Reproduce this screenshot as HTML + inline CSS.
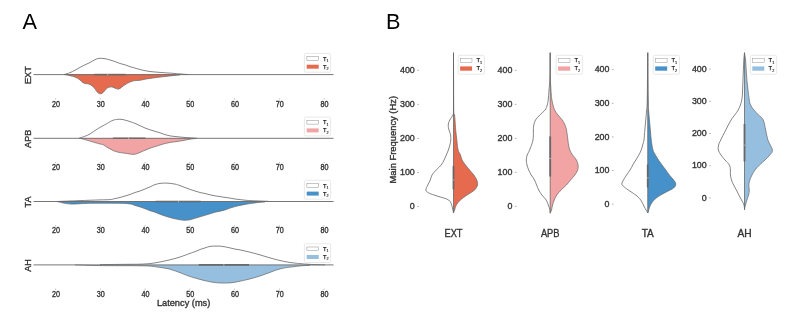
<!DOCTYPE html>
<html><head><meta charset="utf-8"><style>html,body{margin:0;padding:0;background:#fff;width:800px;height:329px;overflow:hidden;position:relative}</style></head>
<body>
<svg width="800" height="329" viewBox="0 0 800 329" style="position:absolute;left:0;top:0;will-change:transform" font-family='"Liberation Sans", sans-serif'>
<rect width="800" height="329" fill="#fff"/>
<text x="22.5" y="29.4" font-size="21.7" fill="#000">A</text>
<text x="386.1" y="29.4" font-size="21.7" fill="#000">B</text>
<path d="M64.20,74.50 C65.17,74.70 68.20,75.27 70.00,75.70 C71.80,76.13 73.33,76.40 75.00,77.10 C76.67,77.80 78.67,78.97 80.00,79.90 C81.33,80.83 82.00,82.08 83.00,82.70 C84.00,83.32 84.83,83.32 86.00,83.60 C87.17,83.88 88.67,83.73 90.00,84.40 C91.33,85.07 92.83,86.37 94.00,87.60 C95.17,88.83 96.08,90.80 97.00,91.80 C97.92,92.80 98.67,93.33 99.50,93.60 C100.33,93.87 101.08,93.93 102.00,93.40 C102.92,92.87 104.00,91.37 105.00,90.40 C106.00,89.43 106.83,88.18 108.00,87.60 C109.17,87.02 110.67,86.73 112.00,86.90 C113.33,87.07 114.83,88.25 116.00,88.60 C117.17,88.95 118.00,89.28 119.00,89.00 C120.00,88.72 121.00,87.60 122.00,86.90 C123.00,86.20 123.67,85.62 125.00,84.80 C126.33,83.98 128.33,82.70 130.00,82.00 C131.67,81.30 133.33,80.88 135.00,80.60 C136.67,80.32 138.33,80.53 140.00,80.30 C141.67,80.07 143.33,79.52 145.00,79.20 C146.67,78.88 148.33,78.65 150.00,78.40 C151.67,78.15 153.33,77.92 155.00,77.70 C156.67,77.48 158.33,77.30 160.00,77.10 C161.67,76.90 163.33,76.70 165.00,76.50 C166.67,76.30 168.33,76.08 170.00,75.90 C171.67,75.72 173.33,75.55 175.00,75.40 C176.67,75.25 177.83,75.13 180.00,75.00 C182.17,74.87 186.67,74.67 188.00,74.60 Z" fill="#e66a4d"/>
<path d="M64.20,74.50 C65.17,74.70 68.20,75.27 70.00,75.70 C71.80,76.13 73.33,76.40 75.00,77.10 C76.67,77.80 78.67,78.97 80.00,79.90 C81.33,80.83 82.00,82.08 83.00,82.70 C84.00,83.32 84.83,83.32 86.00,83.60 C87.17,83.88 88.67,83.73 90.00,84.40 C91.33,85.07 92.83,86.37 94.00,87.60 C95.17,88.83 96.08,90.80 97.00,91.80 C97.92,92.80 98.67,93.33 99.50,93.60 C100.33,93.87 101.08,93.93 102.00,93.40 C102.92,92.87 104.00,91.37 105.00,90.40 C106.00,89.43 106.83,88.18 108.00,87.60 C109.17,87.02 110.67,86.73 112.00,86.90 C113.33,87.07 114.83,88.25 116.00,88.60 C117.17,88.95 118.00,89.28 119.00,89.00 C120.00,88.72 121.00,87.60 122.00,86.90 C123.00,86.20 123.67,85.62 125.00,84.80 C126.33,83.98 128.33,82.70 130.00,82.00 C131.67,81.30 133.33,80.88 135.00,80.60 C136.67,80.32 138.33,80.53 140.00,80.30 C141.67,80.07 143.33,79.52 145.00,79.20 C146.67,78.88 148.33,78.65 150.00,78.40 C151.67,78.15 153.33,77.92 155.00,77.70 C156.67,77.48 158.33,77.30 160.00,77.10 C161.67,76.90 163.33,76.70 165.00,76.50 C166.67,76.30 168.33,76.08 170.00,75.90 C171.67,75.72 173.33,75.55 175.00,75.40 C176.67,75.25 179.17,75.07 180.00,75.00" fill="none" stroke="#666666" stroke-width="0.7"/>
<path d="M64.20,74.50 C65.17,74.20 68.20,73.42 70.00,72.70 C71.80,71.98 73.33,71.08 75.00,70.20 C76.67,69.32 78.33,68.30 80.00,67.40 C81.67,66.50 83.33,65.62 85.00,64.80 C86.67,63.98 88.33,63.35 90.00,62.50 C91.67,61.65 93.50,60.40 95.00,59.70 C96.50,59.00 97.33,58.47 99.00,58.30 C100.67,58.13 103.17,58.42 105.00,58.70 C106.83,58.98 108.33,59.53 110.00,60.00 C111.67,60.47 113.33,60.92 115.00,61.50 C116.67,62.08 118.33,62.95 120.00,63.50 C121.67,64.05 123.33,64.27 125.00,64.80 C126.67,65.33 128.33,66.15 130.00,66.70 C131.67,67.25 133.33,67.63 135.00,68.10 C136.67,68.57 138.33,69.07 140.00,69.50 C141.67,69.93 143.33,70.37 145.00,70.70 C146.67,71.03 148.33,71.28 150.00,71.50 C151.67,71.72 153.33,71.85 155.00,72.00 C156.67,72.15 158.33,72.27 160.00,72.40 C161.67,72.53 163.33,72.68 165.00,72.80 C166.67,72.92 168.33,72.98 170.00,73.10 C171.67,73.22 173.33,73.37 175.00,73.50 C176.67,73.63 177.83,73.72 180.00,73.90 C182.17,74.08 186.67,74.48 188.00,74.60" fill="none" stroke="#666666" stroke-width="0.8"/>
<line x1="33.5" y1="74.6" x2="333.5" y2="74.6" stroke="#666666" stroke-width="0.9"/>
<line x1="94.2" y1="74.6" x2="125.7" y2="74.6" stroke="#6a6a6a" stroke-width="1.6"/>
<line x1="107.45" y1="74.6" x2="108.14999999999999" y2="74.6" stroke="#ccc" stroke-width="1.6"/>
<text transform="translate(30.5,75.1) rotate(-90)" text-anchor="middle" font-size="9.1" fill="#333333" stroke="#333333" stroke-width="0.35">EXT</text>
<line x1="55.6" y1="98.39999999999999" x2="55.6" y2="99.39999999999999" stroke="#999" stroke-width="0.8"/>
<text x="56.0" y="106.8" text-anchor="middle" font-size="8.2" textLength="8.0" lengthAdjust="spacingAndGlyphs" fill="#333333" stroke="#333333" stroke-width="0.35">20</text>
<line x1="100.35" y1="98.39999999999999" x2="100.35" y2="99.39999999999999" stroke="#999" stroke-width="0.8"/>
<text x="100.75" y="106.8" text-anchor="middle" font-size="8.2" textLength="8.0" lengthAdjust="spacingAndGlyphs" fill="#333333" stroke="#333333" stroke-width="0.35">30</text>
<line x1="145.1" y1="98.39999999999999" x2="145.1" y2="99.39999999999999" stroke="#999" stroke-width="0.8"/>
<text x="145.5" y="106.8" text-anchor="middle" font-size="8.2" textLength="8.0" lengthAdjust="spacingAndGlyphs" fill="#333333" stroke="#333333" stroke-width="0.35">40</text>
<line x1="189.85" y1="98.39999999999999" x2="189.85" y2="99.39999999999999" stroke="#999" stroke-width="0.8"/>
<text x="190.25" y="106.8" text-anchor="middle" font-size="8.2" textLength="8.0" lengthAdjust="spacingAndGlyphs" fill="#333333" stroke="#333333" stroke-width="0.35">50</text>
<line x1="234.6" y1="98.39999999999999" x2="234.6" y2="99.39999999999999" stroke="#999" stroke-width="0.8"/>
<text x="235.0" y="106.8" text-anchor="middle" font-size="8.2" textLength="8.0" lengthAdjust="spacingAndGlyphs" fill="#333333" stroke="#333333" stroke-width="0.35">60</text>
<line x1="279.35" y1="98.39999999999999" x2="279.35" y2="99.39999999999999" stroke="#999" stroke-width="0.8"/>
<text x="279.75" y="106.8" text-anchor="middle" font-size="8.2" textLength="8.0" lengthAdjust="spacingAndGlyphs" fill="#333333" stroke="#333333" stroke-width="0.35">70</text>
<line x1="324.1" y1="98.39999999999999" x2="324.1" y2="99.39999999999999" stroke="#999" stroke-width="0.8"/>
<text x="324.5" y="106.8" text-anchor="middle" font-size="8.2" textLength="8.0" lengthAdjust="spacingAndGlyphs" fill="#333333" stroke="#333333" stroke-width="0.35">80</text>
<rect x="304.4" y="53.39999999999999" width="26.2" height="18.8" rx="1.2" fill="#fff" stroke="#e3e3e3" stroke-width="0.8"/>
<rect x="306.9" y="56.69999999999999" width="11.7" height="3.7" fill="#fff" stroke="#808080" stroke-width="0.45"/>
<rect x="306.7" y="64.69999999999999" width="12" height="4" fill="#e66a4d"/>
<text x="323.0" y="60.69999999999999" font-size="5.8" fill="#222" stroke="#222" stroke-width="0.25">T<tspan font-size="3.8" dy="1.2" stroke-width="0.15">1</tspan></text>
<text x="323.0" y="68.69999999999999" font-size="5.8" fill="#222" stroke="#222" stroke-width="0.25">T<tspan font-size="3.8" dy="1.2" stroke-width="0.15">2</tspan></text>
<path d="M79.90,138.30 C80.75,138.52 83.32,139.13 85.00,139.60 C86.68,140.07 88.33,140.60 90.00,141.10 C91.67,141.60 93.33,142.12 95.00,142.60 C96.67,143.08 98.67,143.67 100.00,144.00 C101.33,144.33 101.83,144.07 103.00,144.60 C104.17,145.13 105.67,146.40 107.00,147.20 C108.33,148.00 109.67,148.72 111.00,149.40 C112.33,150.08 113.50,150.77 115.00,151.30 C116.50,151.83 118.33,152.28 120.00,152.60 C121.67,152.92 123.33,152.97 125.00,153.20 C126.67,153.43 128.50,153.80 130.00,154.00 C131.50,154.20 132.83,154.47 134.00,154.40 C135.17,154.33 136.00,153.93 137.00,153.60 C138.00,153.27 138.67,152.95 140.00,152.40 C141.33,151.85 143.33,151.00 145.00,150.30 C146.67,149.60 148.33,148.82 150.00,148.20 C151.67,147.58 153.33,147.13 155.00,146.60 C156.67,146.07 158.33,145.52 160.00,145.00 C161.67,144.48 163.33,143.92 165.00,143.50 C166.67,143.08 168.33,142.78 170.00,142.50 C171.67,142.22 173.33,142.05 175.00,141.80 C176.67,141.55 178.33,141.27 180.00,141.00 C181.67,140.73 183.33,140.50 185.00,140.20 C186.67,139.90 188.33,139.48 190.00,139.20 C191.67,138.92 193.17,138.65 195.00,138.50 C196.83,138.35 200.00,138.33 201.00,138.30 Z" fill="#f2a4a4"/>
<path d="M79.90,138.30 C80.75,138.52 83.32,139.13 85.00,139.60 C86.68,140.07 88.33,140.60 90.00,141.10 C91.67,141.60 93.33,142.12 95.00,142.60 C96.67,143.08 98.67,143.67 100.00,144.00 C101.33,144.33 101.83,144.07 103.00,144.60 C104.17,145.13 105.67,146.40 107.00,147.20 C108.33,148.00 109.67,148.72 111.00,149.40 C112.33,150.08 113.50,150.77 115.00,151.30 C116.50,151.83 118.33,152.28 120.00,152.60 C121.67,152.92 123.33,152.97 125.00,153.20 C126.67,153.43 128.50,153.80 130.00,154.00 C131.50,154.20 132.83,154.47 134.00,154.40 C135.17,154.33 136.00,153.93 137.00,153.60 C138.00,153.27 138.67,152.95 140.00,152.40 C141.33,151.85 143.33,151.00 145.00,150.30 C146.67,149.60 148.33,148.82 150.00,148.20 C151.67,147.58 153.33,147.13 155.00,146.60 C156.67,146.07 158.33,145.52 160.00,145.00 C161.67,144.48 163.33,143.92 165.00,143.50 C166.67,143.08 168.33,142.78 170.00,142.50 C171.67,142.22 173.33,142.05 175.00,141.80 C176.67,141.55 178.33,141.27 180.00,141.00 C181.67,140.73 183.33,140.50 185.00,140.20 C186.67,139.90 188.33,139.48 190.00,139.20 C191.67,138.92 194.17,138.62 195.00,138.50" fill="none" stroke="#666666" stroke-width="0.7"/>
<path d="M79.00,138.30 C79.93,137.98 82.75,137.13 84.60,136.40 C86.45,135.67 87.97,135.15 90.10,133.90 C92.23,132.65 94.97,130.42 97.40,128.90 C99.83,127.38 102.27,126.17 104.70,124.80 C107.13,123.43 110.18,121.57 112.00,120.70 C113.82,119.83 114.60,119.83 115.60,119.60 C116.60,119.37 116.93,119.33 118.00,119.30 C119.07,119.27 120.67,119.22 122.00,119.40 C123.33,119.58 124.67,120.03 126.00,120.40 C127.33,120.77 128.50,121.10 130.00,121.60 C131.50,122.10 133.33,122.72 135.00,123.40 C136.67,124.08 138.33,124.93 140.00,125.70 C141.67,126.47 143.33,127.32 145.00,128.00 C146.67,128.68 148.33,129.25 150.00,129.80 C151.67,130.35 153.33,130.80 155.00,131.30 C156.67,131.80 158.33,132.25 160.00,132.80 C161.67,133.35 163.33,134.08 165.00,134.60 C166.67,135.12 168.33,135.58 170.00,135.90 C171.67,136.22 173.33,136.32 175.00,136.50 C176.67,136.68 178.33,136.83 180.00,137.00 C181.67,137.17 183.33,137.37 185.00,137.50 C186.67,137.63 188.00,137.67 190.00,137.80 C192.00,137.93 195.83,138.22 197.00,138.30" fill="none" stroke="#666666" stroke-width="0.8"/>
<line x1="33.5" y1="138.3" x2="333.5" y2="138.3" stroke="#666666" stroke-width="0.9"/>
<line x1="112.9" y1="138.3" x2="145.4" y2="138.3" stroke="#6a6a6a" stroke-width="1.6"/>
<line x1="128.35" y1="138.3" x2="129.04999999999998" y2="138.3" stroke="#ccc" stroke-width="1.6"/>
<text transform="translate(30.5,138.8) rotate(-90)" text-anchor="middle" font-size="9.1" fill="#333333" stroke="#333333" stroke-width="0.35">APB</text>
<line x1="55.6" y1="162.10000000000002" x2="55.6" y2="163.10000000000002" stroke="#999" stroke-width="0.8"/>
<text x="56.0" y="170.0" text-anchor="middle" font-size="8.2" textLength="8.0" lengthAdjust="spacingAndGlyphs" fill="#333333" stroke="#333333" stroke-width="0.35">20</text>
<line x1="100.35" y1="162.10000000000002" x2="100.35" y2="163.10000000000002" stroke="#999" stroke-width="0.8"/>
<text x="100.75" y="170.0" text-anchor="middle" font-size="8.2" textLength="8.0" lengthAdjust="spacingAndGlyphs" fill="#333333" stroke="#333333" stroke-width="0.35">30</text>
<line x1="145.1" y1="162.10000000000002" x2="145.1" y2="163.10000000000002" stroke="#999" stroke-width="0.8"/>
<text x="145.5" y="170.0" text-anchor="middle" font-size="8.2" textLength="8.0" lengthAdjust="spacingAndGlyphs" fill="#333333" stroke="#333333" stroke-width="0.35">40</text>
<line x1="189.85" y1="162.10000000000002" x2="189.85" y2="163.10000000000002" stroke="#999" stroke-width="0.8"/>
<text x="190.25" y="170.0" text-anchor="middle" font-size="8.2" textLength="8.0" lengthAdjust="spacingAndGlyphs" fill="#333333" stroke="#333333" stroke-width="0.35">50</text>
<line x1="234.6" y1="162.10000000000002" x2="234.6" y2="163.10000000000002" stroke="#999" stroke-width="0.8"/>
<text x="235.0" y="170.0" text-anchor="middle" font-size="8.2" textLength="8.0" lengthAdjust="spacingAndGlyphs" fill="#333333" stroke="#333333" stroke-width="0.35">60</text>
<line x1="279.35" y1="162.10000000000002" x2="279.35" y2="163.10000000000002" stroke="#999" stroke-width="0.8"/>
<text x="279.75" y="170.0" text-anchor="middle" font-size="8.2" textLength="8.0" lengthAdjust="spacingAndGlyphs" fill="#333333" stroke="#333333" stroke-width="0.35">70</text>
<line x1="324.1" y1="162.10000000000002" x2="324.1" y2="163.10000000000002" stroke="#999" stroke-width="0.8"/>
<text x="324.5" y="170.0" text-anchor="middle" font-size="8.2" textLength="8.0" lengthAdjust="spacingAndGlyphs" fill="#333333" stroke="#333333" stroke-width="0.35">80</text>
<rect x="304.4" y="117.10000000000001" width="26.2" height="18.8" rx="1.2" fill="#fff" stroke="#e3e3e3" stroke-width="0.8"/>
<rect x="306.9" y="120.4" width="11.7" height="3.7" fill="#fff" stroke="#808080" stroke-width="0.45"/>
<rect x="306.7" y="128.4" width="12" height="4" fill="#f2a4a4"/>
<text x="323.0" y="124.4" font-size="5.8" fill="#222" stroke="#222" stroke-width="0.25">T<tspan font-size="3.8" dy="1.2" stroke-width="0.15">1</tspan></text>
<text x="323.0" y="132.4" font-size="5.8" fill="#222" stroke="#222" stroke-width="0.25">T<tspan font-size="3.8" dy="1.2" stroke-width="0.15">2</tspan></text>
<path d="M57.00,201.50 C58.33,201.80 62.50,202.87 65.00,203.30 C67.50,203.73 69.50,204.03 72.00,204.10 C74.50,204.17 77.00,203.83 80.00,203.70 C83.00,203.57 86.67,203.38 90.00,203.30 C93.33,203.22 96.67,203.22 100.00,203.20 C103.33,203.18 106.67,203.18 110.00,203.20 C113.33,203.22 116.67,203.18 120.00,203.30 C123.33,203.42 127.50,203.55 130.00,203.90 C132.50,204.25 133.33,204.90 135.00,205.40 C136.67,205.90 138.33,206.35 140.00,206.90 C141.67,207.45 143.33,208.07 145.00,208.70 C146.67,209.33 148.33,210.12 150.00,210.70 C151.67,211.28 153.33,211.62 155.00,212.20 C156.67,212.78 158.33,213.57 160.00,214.20 C161.67,214.83 163.33,215.43 165.00,216.00 C166.67,216.57 168.33,217.13 170.00,217.60 C171.67,218.07 173.33,218.43 175.00,218.80 C176.67,219.17 178.33,219.55 180.00,219.80 C181.67,220.05 183.33,220.30 185.00,220.30 C186.67,220.30 188.33,220.13 190.00,219.80 C191.67,219.47 193.33,218.80 195.00,218.30 C196.67,217.80 198.33,217.30 200.00,216.80 C201.67,216.30 203.33,215.80 205.00,215.30 C206.67,214.80 208.33,214.32 210.00,213.80 C211.67,213.28 213.33,212.63 215.00,212.20 C216.67,211.77 218.33,211.58 220.00,211.20 C221.67,210.82 223.33,210.42 225.00,209.90 C226.67,209.38 228.33,208.65 230.00,208.10 C231.67,207.55 233.33,207.05 235.00,206.60 C236.67,206.15 238.33,205.77 240.00,205.40 C241.67,205.03 243.33,204.70 245.00,204.40 C246.67,204.10 248.33,203.85 250.00,203.60 C251.67,203.35 253.33,203.12 255.00,202.90 C256.67,202.68 258.33,202.47 260.00,202.30 C261.67,202.13 263.33,202.00 265.00,201.90 C266.67,201.80 268.17,201.77 270.00,201.70 C271.83,201.63 275.00,201.53 276.00,201.50 Z" fill="#4691ca"/>
<path d="M57.00,201.50 C58.33,201.80 62.50,202.87 65.00,203.30 C67.50,203.73 69.50,204.03 72.00,204.10 C74.50,204.17 77.00,203.83 80.00,203.70 C83.00,203.57 86.67,203.38 90.00,203.30 C93.33,203.22 96.67,203.22 100.00,203.20 C103.33,203.18 106.67,203.18 110.00,203.20 C113.33,203.22 116.67,203.18 120.00,203.30 C123.33,203.42 127.50,203.55 130.00,203.90 C132.50,204.25 133.33,204.90 135.00,205.40 C136.67,205.90 138.33,206.35 140.00,206.90 C141.67,207.45 143.33,208.07 145.00,208.70 C146.67,209.33 148.33,210.12 150.00,210.70 C151.67,211.28 153.33,211.62 155.00,212.20 C156.67,212.78 158.33,213.57 160.00,214.20 C161.67,214.83 163.33,215.43 165.00,216.00 C166.67,216.57 168.33,217.13 170.00,217.60 C171.67,218.07 173.33,218.43 175.00,218.80 C176.67,219.17 178.33,219.55 180.00,219.80 C181.67,220.05 183.33,220.30 185.00,220.30 C186.67,220.30 188.33,220.13 190.00,219.80 C191.67,219.47 193.33,218.80 195.00,218.30 C196.67,217.80 198.33,217.30 200.00,216.80 C201.67,216.30 203.33,215.80 205.00,215.30 C206.67,214.80 208.33,214.32 210.00,213.80 C211.67,213.28 213.33,212.63 215.00,212.20 C216.67,211.77 218.33,211.58 220.00,211.20 C221.67,210.82 223.33,210.42 225.00,209.90 C226.67,209.38 228.33,208.65 230.00,208.10 C231.67,207.55 233.33,207.05 235.00,206.60 C236.67,206.15 238.33,205.77 240.00,205.40 C241.67,205.03 243.33,204.70 245.00,204.40 C246.67,204.10 248.33,203.85 250.00,203.60 C251.67,203.35 253.33,203.12 255.00,202.90 C256.67,202.68 258.33,202.47 260.00,202.30 C261.67,202.13 264.17,201.97 265.00,201.90" fill="none" stroke="#666666" stroke-width="0.7"/>
<path d="M57.00,201.50 C59.17,201.42 66.17,201.15 70.00,201.00 C73.83,200.85 75.00,200.78 80.00,200.60 C85.00,200.42 95.00,200.07 100.00,199.90 C105.00,199.73 107.50,199.82 110.00,199.60 C112.50,199.38 113.33,198.95 115.00,198.60 C116.67,198.25 118.33,197.93 120.00,197.50 C121.67,197.07 123.33,196.50 125.00,196.00 C126.67,195.50 128.33,195.08 130.00,194.50 C131.67,193.92 133.33,193.08 135.00,192.50 C136.67,191.92 138.33,191.58 140.00,191.00 C141.67,190.42 143.33,189.68 145.00,189.00 C146.67,188.32 148.33,187.63 150.00,186.90 C151.67,186.17 153.33,185.18 155.00,184.60 C156.67,184.02 158.00,183.65 160.00,183.40 C162.00,183.15 164.50,182.98 167.00,183.10 C169.50,183.22 172.83,183.68 175.00,184.10 C177.17,184.52 178.33,185.03 180.00,185.60 C181.67,186.17 183.33,186.87 185.00,187.50 C186.67,188.13 188.33,188.82 190.00,189.40 C191.67,189.98 193.33,190.48 195.00,191.00 C196.67,191.52 198.33,192.08 200.00,192.50 C201.67,192.92 203.33,193.12 205.00,193.50 C206.67,193.88 208.33,194.42 210.00,194.80 C211.67,195.18 213.33,195.50 215.00,195.80 C216.67,196.10 218.33,196.33 220.00,196.60 C221.67,196.87 223.33,197.15 225.00,197.40 C226.67,197.65 228.33,197.83 230.00,198.10 C231.67,198.37 233.33,198.75 235.00,199.00 C236.67,199.25 238.33,199.40 240.00,199.60 C241.67,199.80 243.33,200.03 245.00,200.20 C246.67,200.37 247.50,200.47 250.00,200.60 C252.50,200.73 257.00,200.88 260.00,201.00 C263.00,201.12 266.67,201.25 268.00,201.30" fill="none" stroke="#666666" stroke-width="0.8"/>
<line x1="33.5" y1="201.5" x2="333.5" y2="201.5" stroke="#666666" stroke-width="0.9"/>
<line x1="155.6" y1="201.5" x2="200.7" y2="201.5" stroke="#6a6a6a" stroke-width="1.6"/>
<line x1="178.05" y1="201.5" x2="178.75" y2="201.5" stroke="#ccc" stroke-width="1.6"/>
<text transform="translate(30.5,202.0) rotate(-90)" text-anchor="middle" font-size="9.1" fill="#333333" stroke="#333333" stroke-width="0.35">TA</text>
<line x1="55.6" y1="225.3" x2="55.6" y2="226.3" stroke="#999" stroke-width="0.8"/>
<text x="56.0" y="233.4" text-anchor="middle" font-size="8.2" textLength="8.0" lengthAdjust="spacingAndGlyphs" fill="#333333" stroke="#333333" stroke-width="0.35">20</text>
<line x1="100.35" y1="225.3" x2="100.35" y2="226.3" stroke="#999" stroke-width="0.8"/>
<text x="100.75" y="233.4" text-anchor="middle" font-size="8.2" textLength="8.0" lengthAdjust="spacingAndGlyphs" fill="#333333" stroke="#333333" stroke-width="0.35">30</text>
<line x1="145.1" y1="225.3" x2="145.1" y2="226.3" stroke="#999" stroke-width="0.8"/>
<text x="145.5" y="233.4" text-anchor="middle" font-size="8.2" textLength="8.0" lengthAdjust="spacingAndGlyphs" fill="#333333" stroke="#333333" stroke-width="0.35">40</text>
<line x1="189.85" y1="225.3" x2="189.85" y2="226.3" stroke="#999" stroke-width="0.8"/>
<text x="190.25" y="233.4" text-anchor="middle" font-size="8.2" textLength="8.0" lengthAdjust="spacingAndGlyphs" fill="#333333" stroke="#333333" stroke-width="0.35">50</text>
<line x1="234.6" y1="225.3" x2="234.6" y2="226.3" stroke="#999" stroke-width="0.8"/>
<text x="235.0" y="233.4" text-anchor="middle" font-size="8.2" textLength="8.0" lengthAdjust="spacingAndGlyphs" fill="#333333" stroke="#333333" stroke-width="0.35">60</text>
<line x1="279.35" y1="225.3" x2="279.35" y2="226.3" stroke="#999" stroke-width="0.8"/>
<text x="279.75" y="233.4" text-anchor="middle" font-size="8.2" textLength="8.0" lengthAdjust="spacingAndGlyphs" fill="#333333" stroke="#333333" stroke-width="0.35">70</text>
<line x1="324.1" y1="225.3" x2="324.1" y2="226.3" stroke="#999" stroke-width="0.8"/>
<text x="324.5" y="233.4" text-anchor="middle" font-size="8.2" textLength="8.0" lengthAdjust="spacingAndGlyphs" fill="#333333" stroke="#333333" stroke-width="0.35">80</text>
<rect x="304.4" y="180.3" width="26.2" height="18.8" rx="1.2" fill="#fff" stroke="#e3e3e3" stroke-width="0.8"/>
<rect x="306.9" y="183.60000000000002" width="11.7" height="3.7" fill="#fff" stroke="#808080" stroke-width="0.45"/>
<rect x="306.7" y="191.60000000000002" width="12" height="4" fill="#4691ca"/>
<text x="323.0" y="187.60000000000002" font-size="5.8" fill="#222" stroke="#222" stroke-width="0.25">T<tspan font-size="3.8" dy="1.2" stroke-width="0.15">1</tspan></text>
<text x="323.0" y="195.60000000000002" font-size="5.8" fill="#222" stroke="#222" stroke-width="0.25">T<tspan font-size="3.8" dy="1.2" stroke-width="0.15">2</tspan></text>
<path d="M75.00,264.90 C79.17,265.02 90.83,265.47 100.00,265.60 C109.17,265.73 123.33,265.67 130.00,265.70 C136.67,265.73 136.67,265.73 140.00,265.80 C143.33,265.87 146.67,265.83 150.00,266.10 C153.33,266.37 156.67,266.88 160.00,267.40 C163.33,267.92 166.67,268.32 170.00,269.20 C173.33,270.08 176.67,271.48 180.00,272.70 C183.33,273.92 187.50,275.62 190.00,276.50 C192.50,277.38 193.33,277.52 195.00,278.00 C196.67,278.48 198.33,278.95 200.00,279.40 C201.67,279.85 203.33,280.30 205.00,280.70 C206.67,281.10 208.33,281.48 210.00,281.80 C211.67,282.12 213.33,282.40 215.00,282.60 C216.67,282.80 218.33,282.93 220.00,283.00 C221.67,283.07 223.33,283.02 225.00,283.00 C226.67,282.98 228.33,283.03 230.00,282.90 C231.67,282.77 233.33,282.48 235.00,282.20 C236.67,281.92 238.33,281.55 240.00,281.20 C241.67,280.85 243.33,280.48 245.00,280.10 C246.67,279.72 248.33,279.33 250.00,278.90 C251.67,278.47 253.33,277.98 255.00,277.50 C256.67,277.02 258.33,276.55 260.00,276.00 C261.67,275.45 263.33,274.80 265.00,274.20 C266.67,273.60 268.33,273.03 270.00,272.40 C271.67,271.77 273.33,270.98 275.00,270.40 C276.67,269.82 278.33,269.33 280.00,268.90 C281.67,268.47 283.33,268.10 285.00,267.80 C286.67,267.50 288.33,267.30 290.00,267.10 C291.67,266.90 293.33,266.80 295.00,266.60 C296.67,266.40 297.50,266.12 300.00,265.90 C302.50,265.68 305.83,265.47 310.00,265.30 C314.17,265.13 322.50,264.97 325.00,264.90 Z" fill="#96bfdf"/>
<path d="M75.00,264.90 C79.17,265.02 90.83,265.47 100.00,265.60 C109.17,265.73 123.33,265.67 130.00,265.70 C136.67,265.73 136.67,265.73 140.00,265.80 C143.33,265.87 146.67,265.83 150.00,266.10 C153.33,266.37 156.67,266.88 160.00,267.40 C163.33,267.92 166.67,268.32 170.00,269.20 C173.33,270.08 176.67,271.48 180.00,272.70 C183.33,273.92 187.50,275.62 190.00,276.50 C192.50,277.38 193.33,277.52 195.00,278.00 C196.67,278.48 198.33,278.95 200.00,279.40 C201.67,279.85 203.33,280.30 205.00,280.70 C206.67,281.10 208.33,281.48 210.00,281.80 C211.67,282.12 213.33,282.40 215.00,282.60 C216.67,282.80 218.33,282.93 220.00,283.00 C221.67,283.07 223.33,283.02 225.00,283.00 C226.67,282.98 228.33,283.03 230.00,282.90 C231.67,282.77 233.33,282.48 235.00,282.20 C236.67,281.92 238.33,281.55 240.00,281.20 C241.67,280.85 243.33,280.48 245.00,280.10 C246.67,279.72 248.33,279.33 250.00,278.90 C251.67,278.47 253.33,277.98 255.00,277.50 C256.67,277.02 258.33,276.55 260.00,276.00 C261.67,275.45 263.33,274.80 265.00,274.20 C266.67,273.60 268.33,273.03 270.00,272.40 C271.67,271.77 273.33,270.98 275.00,270.40 C276.67,269.82 278.33,269.33 280.00,268.90 C281.67,268.47 283.33,268.10 285.00,267.80 C286.67,267.50 288.33,267.30 290.00,267.10 C291.67,266.90 293.33,266.80 295.00,266.60 C296.67,266.40 297.50,266.12 300.00,265.90 C302.50,265.68 308.33,265.40 310.00,265.30" fill="none" stroke="#666666" stroke-width="0.7"/>
<path d="M100.00,264.60 C105.00,264.55 123.33,264.37 130.00,264.30 C136.67,264.23 136.67,264.32 140.00,264.20 C143.33,264.08 146.67,263.97 150.00,263.60 C153.33,263.23 156.67,262.63 160.00,262.00 C163.33,261.37 166.67,260.63 170.00,259.80 C173.33,258.97 176.67,258.07 180.00,257.00 C183.33,255.93 187.50,254.30 190.00,253.40 C192.50,252.50 193.33,252.25 195.00,251.60 C196.67,250.95 198.33,250.12 200.00,249.50 C201.67,248.88 203.33,248.42 205.00,247.90 C206.67,247.38 208.33,246.70 210.00,246.40 C211.67,246.10 213.33,246.15 215.00,246.10 C216.67,246.05 218.33,245.98 220.00,246.10 C221.67,246.22 223.33,246.50 225.00,246.80 C226.67,247.10 228.33,247.52 230.00,247.90 C231.67,248.28 233.33,248.77 235.00,249.10 C236.67,249.43 238.33,249.58 240.00,249.90 C241.67,250.22 243.33,250.62 245.00,251.00 C246.67,251.38 248.33,251.78 250.00,252.20 C251.67,252.62 253.33,253.05 255.00,253.50 C256.67,253.95 258.33,254.42 260.00,254.90 C261.67,255.38 263.33,255.90 265.00,256.40 C266.67,256.90 268.33,257.42 270.00,257.90 C271.67,258.38 273.33,258.87 275.00,259.30 C276.67,259.73 278.33,260.12 280.00,260.50 C281.67,260.88 283.33,261.27 285.00,261.60 C286.67,261.93 288.33,262.25 290.00,262.50 C291.67,262.75 293.33,262.92 295.00,263.10 C296.67,263.28 297.50,263.38 300.00,263.60 C302.50,263.82 305.83,264.18 310.00,264.40 C314.17,264.62 322.50,264.82 325.00,264.90" fill="none" stroke="#666666" stroke-width="0.8"/>
<line x1="33.5" y1="264.9" x2="333.5" y2="264.9" stroke="#666666" stroke-width="0.9"/>
<line x1="198.8" y1="264.9" x2="249" y2="264.9" stroke="#6a6a6a" stroke-width="1.6"/>
<line x1="223.55" y1="264.9" x2="224.25" y2="264.9" stroke="#ccc" stroke-width="1.6"/>
<text transform="translate(30.5,265.4) rotate(-90)" text-anchor="middle" font-size="9.1" fill="#333333" stroke="#333333" stroke-width="0.35">AH</text>
<line x1="55.6" y1="288.7" x2="55.6" y2="289.7" stroke="#999" stroke-width="0.8"/>
<text x="56.0" y="296.9" text-anchor="middle" font-size="8.2" textLength="8.0" lengthAdjust="spacingAndGlyphs" fill="#333333" stroke="#333333" stroke-width="0.35">20</text>
<line x1="100.35" y1="288.7" x2="100.35" y2="289.7" stroke="#999" stroke-width="0.8"/>
<text x="100.75" y="296.9" text-anchor="middle" font-size="8.2" textLength="8.0" lengthAdjust="spacingAndGlyphs" fill="#333333" stroke="#333333" stroke-width="0.35">30</text>
<line x1="145.1" y1="288.7" x2="145.1" y2="289.7" stroke="#999" stroke-width="0.8"/>
<text x="145.5" y="296.9" text-anchor="middle" font-size="8.2" textLength="8.0" lengthAdjust="spacingAndGlyphs" fill="#333333" stroke="#333333" stroke-width="0.35">40</text>
<line x1="189.85" y1="288.7" x2="189.85" y2="289.7" stroke="#999" stroke-width="0.8"/>
<text x="190.25" y="296.9" text-anchor="middle" font-size="8.2" textLength="8.0" lengthAdjust="spacingAndGlyphs" fill="#333333" stroke="#333333" stroke-width="0.35">50</text>
<line x1="234.6" y1="288.7" x2="234.6" y2="289.7" stroke="#999" stroke-width="0.8"/>
<text x="235.0" y="296.9" text-anchor="middle" font-size="8.2" textLength="8.0" lengthAdjust="spacingAndGlyphs" fill="#333333" stroke="#333333" stroke-width="0.35">60</text>
<line x1="279.35" y1="288.7" x2="279.35" y2="289.7" stroke="#999" stroke-width="0.8"/>
<text x="279.75" y="296.9" text-anchor="middle" font-size="8.2" textLength="8.0" lengthAdjust="spacingAndGlyphs" fill="#333333" stroke="#333333" stroke-width="0.35">70</text>
<line x1="324.1" y1="288.7" x2="324.1" y2="289.7" stroke="#999" stroke-width="0.8"/>
<text x="324.5" y="296.9" text-anchor="middle" font-size="8.2" textLength="8.0" lengthAdjust="spacingAndGlyphs" fill="#333333" stroke="#333333" stroke-width="0.35">80</text>
<rect x="304.4" y="243.7" width="26.2" height="18.8" rx="1.2" fill="#fff" stroke="#e3e3e3" stroke-width="0.8"/>
<rect x="306.9" y="247.0" width="11.7" height="3.7" fill="#fff" stroke="#808080" stroke-width="0.45"/>
<rect x="306.7" y="255.0" width="12" height="4" fill="#96bfdf"/>
<text x="323.0" y="251.0" font-size="5.8" fill="#222" stroke="#222" stroke-width="0.25">T<tspan font-size="3.8" dy="1.2" stroke-width="0.15">1</tspan></text>
<text x="323.0" y="259.0" font-size="5.8" fill="#222" stroke="#222" stroke-width="0.25">T<tspan font-size="3.8" dy="1.2" stroke-width="0.15">2</tspan></text>
<text x="183.6" y="306.0" text-anchor="middle" font-size="9.4" textLength="53.4" lengthAdjust="spacingAndGlyphs" fill="#333333" stroke="#333333" stroke-width="0.35">Latency (ms)</text>
<line x1="417.3" y1="206.6" x2="418.8" y2="206.6" stroke="#999" stroke-width="0.8"/>
<text x="414.8" y="209.2" text-anchor="end" font-size="8.9" fill="#333333" stroke="#333333" stroke-width="0.35">0</text>
<line x1="417.3" y1="172.52499999999998" x2="418.8" y2="172.52499999999998" stroke="#999" stroke-width="0.8"/>
<text x="414.8" y="175.12499999999997" text-anchor="end" font-size="8.9" fill="#333333" stroke="#333333" stroke-width="0.35">100</text>
<line x1="417.3" y1="138.45" x2="418.8" y2="138.45" stroke="#999" stroke-width="0.8"/>
<text x="414.8" y="141.04999999999998" text-anchor="end" font-size="8.9" fill="#333333" stroke="#333333" stroke-width="0.35">200</text>
<line x1="417.3" y1="104.37499999999999" x2="418.8" y2="104.37499999999999" stroke="#999" stroke-width="0.8"/>
<text x="414.8" y="106.97499999999998" text-anchor="end" font-size="8.9" fill="#333333" stroke="#333333" stroke-width="0.35">300</text>
<line x1="417.3" y1="70.29999999999998" x2="418.8" y2="70.29999999999998" stroke="#999" stroke-width="0.8"/>
<text x="414.8" y="72.89999999999998" text-anchor="end" font-size="8.9" fill="#333333" stroke="#333333" stroke-width="0.35">400</text>
<path d="M453.50,52.70 C453.53,61.92 453.52,97.62 453.70,108.00 C453.88,118.38 454.38,113.00 454.60,115.00 C454.82,117.00 454.82,117.50 455.00,120.00 C455.18,122.50 455.40,126.67 455.70,130.00 C456.00,133.33 456.40,136.67 456.80,140.00 C457.20,143.33 457.48,147.50 458.10,150.00 C458.72,152.50 459.83,153.33 460.50,155.00 C461.17,156.67 461.27,158.33 462.10,160.00 C462.93,161.67 464.25,163.33 465.50,165.00 C466.75,166.67 468.22,168.33 469.60,170.00 C470.98,171.67 472.60,173.33 473.80,175.00 C475.00,176.67 476.18,178.33 476.80,180.00 C477.42,181.67 477.87,183.33 477.50,185.00 C477.13,186.67 476.33,188.33 474.60,190.00 C472.87,191.67 469.47,193.33 467.10,195.00 C464.73,196.67 462.20,198.33 460.40,200.00 C458.60,201.67 457.27,203.33 456.30,205.00 C455.33,206.67 455.07,208.67 454.60,210.00 C454.13,211.33 453.68,212.50 453.50,213.00 Z" fill="#e66a4d"/>
<path d="M453.50,52.70 C453.53,61.92 453.52,97.62 453.70,108.00 C453.88,118.38 454.38,113.00 454.60,115.00 C454.82,117.00 454.82,117.50 455.00,120.00 C455.18,122.50 455.40,126.67 455.70,130.00 C456.00,133.33 456.40,136.67 456.80,140.00 C457.20,143.33 457.48,147.50 458.10,150.00 C458.72,152.50 459.83,153.33 460.50,155.00 C461.17,156.67 461.27,158.33 462.10,160.00 C462.93,161.67 464.25,163.33 465.50,165.00 C466.75,166.67 468.22,168.33 469.60,170.00 C470.98,171.67 472.60,173.33 473.80,175.00 C475.00,176.67 476.18,178.33 476.80,180.00 C477.42,181.67 477.87,183.33 477.50,185.00 C477.13,186.67 476.33,188.33 474.60,190.00 C472.87,191.67 469.47,193.33 467.10,195.00 C464.73,196.67 462.20,198.33 460.40,200.00 C458.60,201.67 457.27,203.33 456.30,205.00 C455.33,206.67 455.07,208.67 454.60,210.00 C454.13,211.33 453.68,212.50 453.50,213.00" fill="none" stroke="#666666" stroke-width="0.7"/>
<path d="M453.50,52.70 C453.50,61.92 453.60,97.62 453.50,108.00 C453.40,118.38 453.53,113.00 452.90,115.00 C452.27,117.00 450.48,118.33 449.70,120.00 C448.92,121.67 448.32,123.33 448.20,125.00 C448.08,126.67 448.60,128.33 449.00,130.00 C449.40,131.67 450.30,133.33 450.60,135.00 C450.90,136.67 450.92,138.33 450.80,140.00 C450.68,141.67 450.30,143.33 449.90,145.00 C449.50,146.67 449.00,148.33 448.40,150.00 C447.80,151.67 447.02,153.33 446.30,155.00 C445.58,156.67 444.95,158.33 444.10,160.00 C443.25,161.67 442.52,163.33 441.20,165.00 C439.88,166.67 437.73,168.33 436.20,170.00 C434.67,171.67 432.98,173.33 432.00,175.00 C431.02,176.67 431.00,178.33 430.30,180.00 C429.60,181.67 428.53,183.33 427.80,185.00 C427.07,186.67 425.73,188.67 425.90,190.00 C426.07,191.33 426.95,192.00 428.80,193.00 C430.65,194.00 434.52,195.17 437.00,196.00 C439.48,196.83 441.75,197.33 443.70,198.00 C445.65,198.67 447.45,199.08 448.70,200.00 C449.95,200.92 450.62,202.33 451.20,203.50 C451.78,204.67 451.92,205.92 452.20,207.00 C452.48,208.08 452.68,209.00 452.90,210.00 C453.12,211.00 453.40,212.50 453.50,213.00" fill="none" stroke="#666666" stroke-width="0.8"/>
<line x1="453.5" y1="52.7" x2="453.5" y2="213" stroke="#666666" stroke-width="0.8"/>
<line x1="453.5" y1="165.9" x2="453.5" y2="189.3" stroke="#666" stroke-width="1.8"/>
<line x1="453.5" y1="179.65" x2="453.5" y2="180.35" stroke="#ccc" stroke-width="1.8"/>
<text x="453.5" y="236.7" text-anchor="middle" font-size="10.3" textLength="18.1" lengthAdjust="spacingAndGlyphs" fill="#333333" stroke="#333333" stroke-width="0.35">EXT</text>
<rect x="458.2" y="55.3" width="26.2" height="18.9" rx="1.2" fill="#fff" stroke="#e3e3e3" stroke-width="0.8"/>
<rect x="460.3" y="58.5" width="11.7" height="4" fill="#fff" stroke="#8a8a8a" stroke-width="0.45"/>
<rect x="460.09999999999997" y="66.39999999999999" width="12" height="4.3" fill="#e66a4d"/>
<text x="476.4" y="62.3" font-size="5.8" fill="#222" stroke="#222" stroke-width="0.25">T<tspan font-size="3.8" dy="1.2" stroke-width="0.15">1</tspan></text>
<text x="476.4" y="70.3" font-size="5.8" fill="#222" stroke="#222" stroke-width="0.25">T<tspan font-size="3.8" dy="1.2" stroke-width="0.15">2</tspan></text>
<line x1="514.9" y1="206.35" x2="516.4" y2="206.35" stroke="#999" stroke-width="0.8"/>
<text x="512.4" y="208.95" text-anchor="end" font-size="8.9" fill="#333333" stroke="#333333" stroke-width="0.35">0</text>
<line x1="514.9" y1="172.3625" x2="516.4" y2="172.3625" stroke="#999" stroke-width="0.8"/>
<text x="512.4" y="174.9625" text-anchor="end" font-size="8.9" fill="#333333" stroke="#333333" stroke-width="0.35">100</text>
<line x1="514.9" y1="138.375" x2="516.4" y2="138.375" stroke="#999" stroke-width="0.8"/>
<text x="512.4" y="140.975" text-anchor="end" font-size="8.9" fill="#333333" stroke="#333333" stroke-width="0.35">200</text>
<line x1="514.9" y1="104.3875" x2="516.4" y2="104.3875" stroke="#999" stroke-width="0.8"/>
<text x="512.4" y="106.9875" text-anchor="end" font-size="8.9" fill="#333333" stroke="#333333" stroke-width="0.35">300</text>
<line x1="514.9" y1="70.4" x2="516.4" y2="70.4" stroke="#999" stroke-width="0.8"/>
<text x="512.4" y="73.0" text-anchor="end" font-size="8.9" fill="#333333" stroke="#333333" stroke-width="0.35">400</text>
<path d="M550.20,52.70 C550.22,56.75 550.20,71.28 550.30,77.00 C550.40,82.72 550.63,84.00 550.80,87.00 C550.97,90.00 551.12,92.83 551.30,95.00 C551.48,97.17 551.62,98.33 551.90,100.00 C552.18,101.67 552.55,103.33 553.00,105.00 C553.45,106.67 553.77,108.33 554.60,110.00 C555.43,111.67 556.72,113.33 558.00,115.00 C559.28,116.67 561.13,118.33 562.30,120.00 C563.47,121.67 564.30,123.33 565.00,125.00 C565.70,126.67 566.02,127.50 566.50,130.00 C566.98,132.50 567.55,137.50 567.90,140.00 C568.25,142.50 568.28,143.33 568.60,145.00 C568.92,146.67 569.13,148.33 569.80,150.00 C570.47,151.67 571.50,153.33 572.60,155.00 C573.70,156.67 575.48,158.33 576.40,160.00 C577.32,161.67 577.88,163.33 578.10,165.00 C578.32,166.67 578.23,168.33 577.70,170.00 C577.17,171.67 576.08,173.33 574.90,175.00 C573.72,176.67 572.02,178.33 570.60,180.00 C569.18,181.67 567.98,183.33 566.40,185.00 C564.82,186.67 562.70,188.33 561.10,190.00 C559.50,191.67 557.93,193.33 556.80,195.00 C555.67,196.67 555.00,198.33 554.30,200.00 C553.60,201.67 553.07,203.33 552.60,205.00 C552.13,206.67 551.90,208.63 551.50,210.00 C551.10,211.37 550.42,212.67 550.20,213.20 Z" fill="#f2a4a4"/>
<path d="M550.20,52.70 C550.22,56.75 550.20,71.28 550.30,77.00 C550.40,82.72 550.63,84.00 550.80,87.00 C550.97,90.00 551.12,92.83 551.30,95.00 C551.48,97.17 551.62,98.33 551.90,100.00 C552.18,101.67 552.55,103.33 553.00,105.00 C553.45,106.67 553.77,108.33 554.60,110.00 C555.43,111.67 556.72,113.33 558.00,115.00 C559.28,116.67 561.13,118.33 562.30,120.00 C563.47,121.67 564.30,123.33 565.00,125.00 C565.70,126.67 566.02,127.50 566.50,130.00 C566.98,132.50 567.55,137.50 567.90,140.00 C568.25,142.50 568.28,143.33 568.60,145.00 C568.92,146.67 569.13,148.33 569.80,150.00 C570.47,151.67 571.50,153.33 572.60,155.00 C573.70,156.67 575.48,158.33 576.40,160.00 C577.32,161.67 577.88,163.33 578.10,165.00 C578.32,166.67 578.23,168.33 577.70,170.00 C577.17,171.67 576.08,173.33 574.90,175.00 C573.72,176.67 572.02,178.33 570.60,180.00 C569.18,181.67 567.98,183.33 566.40,185.00 C564.82,186.67 562.70,188.33 561.10,190.00 C559.50,191.67 557.93,193.33 556.80,195.00 C555.67,196.67 555.00,198.33 554.30,200.00 C553.60,201.67 553.07,203.33 552.60,205.00 C552.13,206.67 551.90,208.63 551.50,210.00 C551.10,211.37 550.42,212.67 550.20,213.20" fill="none" stroke="#666666" stroke-width="0.7"/>
<path d="M550.20,52.70 C550.17,56.75 550.20,70.78 550.00,77.00 C549.80,83.22 549.30,86.17 549.00,90.00 C548.70,93.83 548.50,97.50 548.20,100.00 C547.90,102.50 547.72,103.33 547.20,105.00 C546.68,106.67 546.33,108.33 545.10,110.00 C543.87,111.67 541.40,113.33 539.80,115.00 C538.20,116.67 536.50,118.33 535.50,120.00 C534.50,121.67 534.15,123.33 533.80,125.00 C533.45,126.67 533.53,127.50 533.40,130.00 C533.27,132.50 533.63,136.67 533.00,140.00 C532.37,143.33 530.57,147.50 529.60,150.00 C528.63,152.50 527.75,153.33 527.20,155.00 C526.65,156.67 526.33,158.33 526.30,160.00 C526.27,161.67 526.60,163.33 527.00,165.00 C527.40,166.67 527.98,168.33 528.70,170.00 C529.42,171.67 530.33,173.33 531.30,175.00 C532.27,176.67 533.62,178.33 534.50,180.00 C535.38,181.67 535.90,183.33 536.60,185.00 C537.30,186.67 537.82,188.33 538.70,190.00 C539.58,191.67 540.65,193.33 541.90,195.00 C543.15,196.67 545.13,198.33 546.20,200.00 C547.27,201.67 547.67,203.33 548.30,205.00 C548.93,206.67 549.68,208.63 550.00,210.00 C550.32,211.37 550.17,212.67 550.20,213.20" fill="none" stroke="#666666" stroke-width="0.8"/>
<line x1="550.2" y1="52.7" x2="550.2" y2="213.2" stroke="#666666" stroke-width="0.8"/>
<line x1="550.2" y1="136.4" x2="550.2" y2="176.5" stroke="#666" stroke-width="1.8"/>
<line x1="550.2" y1="157.95000000000002" x2="550.2" y2="158.65" stroke="#ccc" stroke-width="1.8"/>
<text x="550.2" y="236.7" text-anchor="middle" font-size="10.3" textLength="18.6" lengthAdjust="spacingAndGlyphs" fill="#333333" stroke="#333333" stroke-width="0.35">APB</text>
<rect x="556.2" y="55.3" width="26.2" height="18.9" rx="1.2" fill="#fff" stroke="#e3e3e3" stroke-width="0.8"/>
<rect x="558.3000000000001" y="58.5" width="11.7" height="4" fill="#fff" stroke="#8a8a8a" stroke-width="0.45"/>
<rect x="558.1" y="66.39999999999999" width="12" height="4.3" fill="#f2a4a4"/>
<text x="574.4000000000001" y="62.3" font-size="5.8" fill="#222" stroke="#222" stroke-width="0.25">T<tspan font-size="3.8" dy="1.2" stroke-width="0.15">1</tspan></text>
<text x="574.4000000000001" y="70.3" font-size="5.8" fill="#222" stroke="#222" stroke-width="0.25">T<tspan font-size="3.8" dy="1.2" stroke-width="0.15">2</tspan></text>
<line x1="612.0" y1="204.2" x2="613.5" y2="204.2" stroke="#999" stroke-width="0.8"/>
<text x="609.5" y="206.79999999999998" text-anchor="end" font-size="8.9" fill="#333333" stroke="#333333" stroke-width="0.35">0</text>
<line x1="612.0" y1="170.54999999999998" x2="613.5" y2="170.54999999999998" stroke="#999" stroke-width="0.8"/>
<text x="609.5" y="173.14999999999998" text-anchor="end" font-size="8.9" fill="#333333" stroke="#333333" stroke-width="0.35">100</text>
<line x1="612.0" y1="136.89999999999998" x2="613.5" y2="136.89999999999998" stroke="#999" stroke-width="0.8"/>
<text x="609.5" y="139.49999999999997" text-anchor="end" font-size="8.9" fill="#333333" stroke="#333333" stroke-width="0.35">200</text>
<line x1="612.0" y1="103.25" x2="613.5" y2="103.25" stroke="#999" stroke-width="0.8"/>
<text x="609.5" y="105.85" text-anchor="end" font-size="8.9" fill="#333333" stroke="#333333" stroke-width="0.35">300</text>
<line x1="612.0" y1="69.6" x2="613.5" y2="69.6" stroke="#999" stroke-width="0.8"/>
<text x="609.5" y="72.19999999999999" text-anchor="end" font-size="8.9" fill="#333333" stroke="#333333" stroke-width="0.35">400</text>
<path d="M647.75,52.70 C647.83,60.58 648.12,90.45 648.25,100.00 C648.38,109.55 648.35,106.67 648.55,110.00 C648.75,113.33 649.15,116.67 649.45,120.00 C649.75,123.33 650.05,126.67 650.35,130.00 C650.65,133.33 650.82,136.67 651.25,140.00 C651.68,143.33 652.25,147.50 652.95,150.00 C653.65,152.50 654.53,153.33 655.45,155.00 C656.37,156.67 657.35,158.33 658.45,160.00 C659.55,161.67 660.82,163.33 662.05,165.00 C663.28,166.67 664.63,168.33 665.85,170.00 C667.07,171.67 668.05,173.33 669.35,175.00 C670.65,176.67 672.58,178.50 673.65,180.00 C674.72,181.50 675.75,182.67 675.75,184.00 C675.75,185.33 675.23,186.67 673.65,188.00 C672.07,189.33 668.92,190.50 666.25,192.00 C663.58,193.50 659.97,195.33 657.65,197.00 C655.33,198.67 653.68,200.33 652.35,202.00 C651.02,203.67 650.33,205.33 649.65,207.00 C648.97,208.67 648.57,211.00 648.25,212.00 C647.93,213.00 647.83,212.83 647.75,213.00 Z" fill="#4691ca"/>
<path d="M647.75,52.70 C647.83,60.58 648.12,90.45 648.25,100.00 C648.38,109.55 648.35,106.67 648.55,110.00 C648.75,113.33 649.15,116.67 649.45,120.00 C649.75,123.33 650.05,126.67 650.35,130.00 C650.65,133.33 650.82,136.67 651.25,140.00 C651.68,143.33 652.25,147.50 652.95,150.00 C653.65,152.50 654.53,153.33 655.45,155.00 C656.37,156.67 657.35,158.33 658.45,160.00 C659.55,161.67 660.82,163.33 662.05,165.00 C663.28,166.67 664.63,168.33 665.85,170.00 C667.07,171.67 668.05,173.33 669.35,175.00 C670.65,176.67 672.58,178.50 673.65,180.00 C674.72,181.50 675.75,182.67 675.75,184.00 C675.75,185.33 675.23,186.67 673.65,188.00 C672.07,189.33 668.92,190.50 666.25,192.00 C663.58,193.50 659.97,195.33 657.65,197.00 C655.33,198.67 653.68,200.33 652.35,202.00 C651.02,203.67 650.33,205.33 649.65,207.00 C648.97,208.67 648.57,211.00 648.25,212.00 C647.93,213.00 647.83,212.83 647.75,213.00" fill="none" stroke="#666666" stroke-width="0.7"/>
<path d="M647.75,52.70 C647.67,60.58 647.43,90.45 647.25,100.00 C647.07,109.55 646.90,106.67 646.65,110.00 C646.40,113.33 646.05,116.67 645.75,120.00 C645.45,123.33 645.15,126.67 644.85,130.00 C644.55,133.33 644.32,137.50 643.95,140.00 C643.58,142.50 643.10,143.33 642.65,145.00 C642.20,146.67 641.88,148.33 641.25,150.00 C640.62,151.67 639.75,153.33 638.85,155.00 C637.95,156.67 636.87,158.33 635.85,160.00 C634.83,161.67 633.72,163.33 632.75,165.00 C631.78,166.67 631.08,168.33 630.05,170.00 C629.02,171.67 627.65,173.33 626.55,175.00 C625.45,176.67 624.23,178.50 623.45,180.00 C622.67,181.50 621.72,182.83 621.85,184.00 C621.98,185.17 622.93,185.83 624.25,187.00 C625.57,188.17 627.62,189.50 629.75,191.00 C631.88,192.50 635.10,194.33 637.05,196.00 C639.00,197.67 640.32,199.33 641.45,201.00 C642.58,202.67 642.98,204.33 643.85,206.00 C644.72,207.67 646.00,209.83 646.65,211.00 C647.30,212.17 647.57,212.67 647.75,213.00" fill="none" stroke="#666666" stroke-width="0.8"/>
<line x1="647.75" y1="52.7" x2="647.75" y2="213" stroke="#666666" stroke-width="0.8"/>
<line x1="647.75" y1="164.5" x2="647.75" y2="187.6" stroke="#666" stroke-width="1.8"/>
<line x1="647.75" y1="177.55" x2="647.75" y2="178.25" stroke="#ccc" stroke-width="1.8"/>
<text x="647.75" y="236.7" text-anchor="middle" font-size="10.3" textLength="12.1" lengthAdjust="spacingAndGlyphs" fill="#333333" stroke="#333333" stroke-width="0.35">TA</text>
<rect x="653.3" y="55.3" width="26.2" height="18.9" rx="1.2" fill="#fff" stroke="#e3e3e3" stroke-width="0.8"/>
<rect x="655.4" y="58.5" width="11.7" height="4" fill="#fff" stroke="#8a8a8a" stroke-width="0.45"/>
<rect x="655.1999999999999" y="66.39999999999999" width="12" height="4.3" fill="#4691ca"/>
<text x="671.5" y="62.3" font-size="5.8" fill="#222" stroke="#222" stroke-width="0.25">T<tspan font-size="3.8" dy="1.2" stroke-width="0.15">1</tspan></text>
<text x="671.5" y="70.3" font-size="5.8" fill="#222" stroke="#222" stroke-width="0.25">T<tspan font-size="3.8" dy="1.2" stroke-width="0.15">2</tspan></text>
<line x1="709.2" y1="197.9" x2="710.7" y2="197.9" stroke="#999" stroke-width="0.8"/>
<text x="706.7" y="200.5" text-anchor="end" font-size="8.9" fill="#333333" stroke="#333333" stroke-width="0.35">0</text>
<line x1="709.2" y1="165.7" x2="710.7" y2="165.7" stroke="#999" stroke-width="0.8"/>
<text x="706.7" y="168.29999999999998" text-anchor="end" font-size="8.9" fill="#333333" stroke="#333333" stroke-width="0.35">100</text>
<line x1="709.2" y1="133.5" x2="710.7" y2="133.5" stroke="#999" stroke-width="0.8"/>
<text x="706.7" y="136.1" text-anchor="end" font-size="8.9" fill="#333333" stroke="#333333" stroke-width="0.35">200</text>
<line x1="709.2" y1="101.3" x2="710.7" y2="101.3" stroke="#999" stroke-width="0.8"/>
<text x="706.7" y="103.89999999999999" text-anchor="end" font-size="8.9" fill="#333333" stroke="#333333" stroke-width="0.35">300</text>
<line x1="709.2" y1="69.1" x2="710.7" y2="69.1" stroke="#999" stroke-width="0.8"/>
<text x="706.7" y="71.69999999999999" text-anchor="end" font-size="8.9" fill="#333333" stroke="#333333" stroke-width="0.35">400</text>
<path d="M744.50,52.70 C744.68,53.92 745.32,57.12 745.60,60.00 C745.88,62.88 745.98,66.67 746.20,70.00 C746.42,73.33 746.60,76.67 746.90,80.00 C747.20,83.33 747.60,86.67 748.00,90.00 C748.40,93.33 748.87,97.50 749.30,100.00 C749.73,102.50 749.83,103.33 750.60,105.00 C751.37,106.67 752.57,108.33 753.90,110.00 C755.23,111.67 757.03,113.33 758.60,115.00 C760.17,116.67 762.12,117.50 763.30,120.00 C764.48,122.50 764.93,126.67 765.70,130.00 C766.47,133.33 766.78,136.67 767.90,140.00 C769.02,143.33 772.08,147.50 772.40,150.00 C772.72,152.50 771.03,153.33 769.80,155.00 C768.57,156.67 766.72,158.33 765.00,160.00 C763.28,161.67 761.17,163.33 759.50,165.00 C757.83,166.67 756.25,168.33 755.00,170.00 C753.75,171.67 752.87,173.33 752.00,175.00 C751.13,176.67 750.33,178.33 749.80,180.00 C749.27,181.67 748.88,183.33 748.80,185.00 C748.72,186.67 749.33,188.33 749.30,190.00 C749.27,191.67 749.00,193.33 748.60,195.00 C748.20,196.67 747.42,198.33 746.90,200.00 C746.38,201.67 745.90,203.40 745.50,205.00 C745.10,206.60 744.67,208.83 744.50,209.60 Z" fill="#96bfdf"/>
<path d="M744.50,52.70 C744.68,53.92 745.32,57.12 745.60,60.00 C745.88,62.88 745.98,66.67 746.20,70.00 C746.42,73.33 746.60,76.67 746.90,80.00 C747.20,83.33 747.60,86.67 748.00,90.00 C748.40,93.33 748.87,97.50 749.30,100.00 C749.73,102.50 749.83,103.33 750.60,105.00 C751.37,106.67 752.57,108.33 753.90,110.00 C755.23,111.67 757.03,113.33 758.60,115.00 C760.17,116.67 762.12,117.50 763.30,120.00 C764.48,122.50 764.93,126.67 765.70,130.00 C766.47,133.33 766.78,136.67 767.90,140.00 C769.02,143.33 772.08,147.50 772.40,150.00 C772.72,152.50 771.03,153.33 769.80,155.00 C768.57,156.67 766.72,158.33 765.00,160.00 C763.28,161.67 761.17,163.33 759.50,165.00 C757.83,166.67 756.25,168.33 755.00,170.00 C753.75,171.67 752.87,173.33 752.00,175.00 C751.13,176.67 750.33,178.33 749.80,180.00 C749.27,181.67 748.88,183.33 748.80,185.00 C748.72,186.67 749.33,188.33 749.30,190.00 C749.27,191.67 749.00,193.33 748.60,195.00 C748.20,196.67 747.42,198.33 746.90,200.00 C746.38,201.67 745.90,203.40 745.50,205.00 C745.10,206.60 744.67,208.83 744.50,209.60" fill="none" stroke="#666666" stroke-width="0.7"/>
<path d="M744.50,52.70 C744.38,53.92 743.98,57.12 743.80,60.00 C743.62,62.88 743.53,66.67 743.40,70.00 C743.27,73.33 743.13,76.67 743.00,80.00 C742.87,83.33 742.80,86.67 742.60,90.00 C742.40,93.33 742.53,96.67 741.80,100.00 C741.07,103.33 740.00,106.67 738.20,110.00 C736.40,113.33 733.07,116.67 731.00,120.00 C728.93,123.33 727.52,126.67 725.80,130.00 C724.08,133.33 721.90,137.50 720.70,140.00 C719.50,142.50 719.00,143.33 718.60,145.00 C718.20,146.67 717.90,148.33 718.30,150.00 C718.70,151.67 719.88,153.33 721.00,155.00 C722.12,156.67 723.60,158.33 725.00,160.00 C726.40,161.67 728.50,163.33 729.40,165.00 C730.30,166.67 730.23,168.33 730.40,170.00 C730.57,171.67 730.22,173.33 730.40,175.00 C730.58,176.67 730.97,178.33 731.50,180.00 C732.03,181.67 732.78,183.33 733.60,185.00 C734.42,186.67 735.52,188.33 736.40,190.00 C737.28,191.67 738.05,193.33 738.90,195.00 C739.75,196.67 740.65,198.33 741.50,200.00 C742.35,201.67 743.50,203.40 744.00,205.00 C744.50,206.60 744.42,208.83 744.50,209.60" fill="none" stroke="#666666" stroke-width="0.8"/>
<line x1="744.5" y1="52.7" x2="744.5" y2="209.6" stroke="#666666" stroke-width="0.8"/>
<line x1="744.5" y1="124.0" x2="744.5" y2="161.5" stroke="#666" stroke-width="1.8"/>
<line x1="744.5" y1="144.75" x2="744.5" y2="145.45" stroke="#ccc" stroke-width="1.8"/>
<text x="744.5" y="236.7" text-anchor="middle" font-size="10.3" textLength="14.2" lengthAdjust="spacingAndGlyphs" fill="#333333" stroke="#333333" stroke-width="0.35">AH</text>
<rect x="750.4" y="55.3" width="26.2" height="18.9" rx="1.2" fill="#fff" stroke="#e3e3e3" stroke-width="0.8"/>
<rect x="752.5" y="58.5" width="11.7" height="4" fill="#fff" stroke="#8a8a8a" stroke-width="0.45"/>
<rect x="752.3" y="66.39999999999999" width="12" height="4.3" fill="#96bfdf"/>
<text x="768.6" y="62.3" font-size="5.8" fill="#222" stroke="#222" stroke-width="0.25">T<tspan font-size="3.8" dy="1.2" stroke-width="0.15">1</tspan></text>
<text x="768.6" y="70.3" font-size="5.8" fill="#222" stroke="#222" stroke-width="0.25">T<tspan font-size="3.8" dy="1.2" stroke-width="0.15">2</tspan></text>
<text transform="translate(395.9,139.7) rotate(-90)" text-anchor="middle" font-size="9.4" fill="#333333" stroke="#333333" stroke-width="0.35">Main Frequency (Hz)</text>
</svg>
</body></html>
